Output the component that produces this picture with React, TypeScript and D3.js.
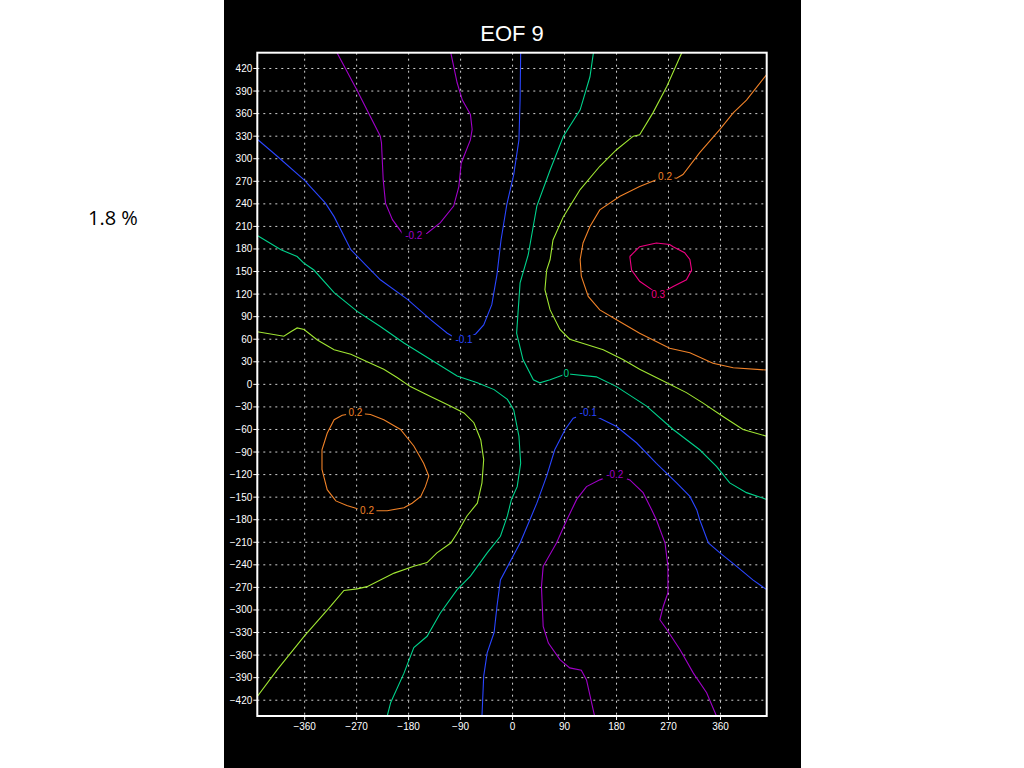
import React from "react";
import * as d3 from "d3";

type P = [number, number];

const title = "EOF 9";
const percentText = "1.8 %";
const xTicks = [-360, -270, -180, -90, 0, 90, 180, 270, 360];
const yTicks = [-420, -390, -360, -330, -300, -270, -240, -210, -180, -150, -120, -90, -60, -30, 0, 30, 60, 90, 120, 150, 180, 210, 240, 270, 300, 330, 360, 390, 420];
const xDomain: P = [-442, 440];
const yDomain: P = [-441, 441];

const levels = [-0.2, -0.1, 0, 0.1, 0.2, 0.3];

// contour -0.2 (north)
const cM02North: P[] = [
  [-304, 441], [-270, 392], [-229, 330], [-227, 321], [-224, 272], [-220, 241], [-208, 219], [-191, 201],
  [-171, 198], [-148, 201], [-125, 215], [-102, 237], [-93, 263], [-89, 294], [-73, 325], [-70, 339],
  [-73, 359], [-87, 378], [-96, 401], [-107, 441],
];
// contour -0.1 (north)
const cM01North: P[] = [
  [-442, 326], [-407, 303], [-361, 272], [-324, 241], [-309, 223], [-280, 179], [-257, 161], [-229, 139],
  [-182, 113], [-142, 86], [-113, 68], [-102, 63], [-84, 59], [-64, 67], [-50, 79], [-36, 106],
  [-27, 146], [-20, 192], [-10, 239], [2, 279], [11, 325], [13, 378], [14, 441],
];
// contour 0 (east branch)
const cZeroEast: P[] = [
  [140, 441], [134, 409], [117, 365], [88, 330], [65, 285], [42, 237], [27, 172], [13, 135],
  [7, 68], [18, 33], [36, 6], [47, 2], [65, 6], [93, 14], [145, 10], [180, -3], [232, -29],
  [278, -60], [324, -87], [353, -109], [376, -131], [405, -144], [440, -153],
];
// contour 0 (west branch)
const cZeroWest: P[] = [
  [-442, 198], [-401, 179], [-373, 170], [-361, 161], [-344, 152], [-309, 122], [-269, 97], [-229, 77],
  [-188, 55], [-142, 33], [-96, 11], [-61, 2], [-32, -7], [-9, -20], [2, -34], [11, -69], [14, -105],
  [8, -136], [-2, -153], [-9, -175], [-21, -202], [-44, -224], [-73, -255], [-96, -273], [-125, -304],
  [-148, -335], [-171, -350], [-188, -384], [-211, -423], [-217, -441],
];
// contour 0.1 (north-east)
const cP01NorthEast: P[] = [
  [293, 441], [267, 396], [243, 361], [220, 332], [209, 330], [180, 312], [151, 290], [117, 259],
  [88, 223], [70, 192], [65, 166], [59, 152], [56, 126], [65, 99], [82, 73], [99, 60], [128, 53],
  [157, 46], [191, 33], [220, 20], [267, 2], [301, -11], [330, -25], [365, -43], [399, -60], [440, -69],
];
// contour 0.1 (south-west)
const cP01SouthWest: P[] = [
  [-442, 70], [-396, 64], [-384, 70], [-373, 75], [-361, 73], [-338, 59], [-309, 46], [-280, 40],
  [-246, 28], [-223, 20], [-200, 9], [-177, -3], [-142, -16], [-107, -29], [-84, -38], [-67, -51],
  [-55, -74], [-50, -100], [-53, -131], [-61, -158], [-79, -175], [-96, -198], [-107, -211],
  [-131, -224], [-148, -237], [-171, -242], [-205, -251], [-252, -269], [-269, -272], [-292, -274],
  [-315, -295], [-361, -335], [-407, -379], [-442, -415],
];
// contour 0.2 (north-east)
const cP02NorthEast: P[] = [
  [440, 412], [405, 378], [382, 361], [359, 339], [324, 308], [295, 279], [284, 274], [264, 276],
  [249, 272], [220, 263], [186, 250], [151, 232], [134, 210], [122, 188], [117, 166], [119, 144],
  [131, 117], [151, 99], [180, 86], [220, 68], [272, 48], [307, 42], [347, 28], [382, 22], [440, 19],
];
// contour 0.3 (closed cell)
const cP03Cell: P[] = [
  [203, 170], [206, 152], [220, 137], [241, 126], [252, 119], [278, 130], [301, 139], [310, 152],
  [307, 166], [298, 175], [278, 183], [272, 186], [249, 188], [220, 183], [203, 170],
];
// contour 0.2 (closed cell, west)
const cP02West: P[] = [
  [-272, -38], [-246, -40], [-223, -47], [-194, -60], [-171, -82], [-154, -105], [-145, -122],
  [-151, -136], [-159, -149], [-174, -158], [-188, -164], [-217, -168], [-252, -168], [-270, -165],
  [-287, -161], [-306, -155], [-321, -140], [-330, -113], [-330, -87], [-321, -65], [-309, -47],
  [-295, -41], [-272, -38],
];
// contour -0.1 (south)
const cM01South: P[] = [
  [440, -273], [416, -260], [388, -242], [359, -224], [339, -211], [324, -180], [319, -167],
  [307, -149], [284, -131], [249, -105], [215, -78], [180, -56], [151, -45], [131, -38],
  [105, -45], [91, -60], [73, -87], [59, -122], [42, -158], [30, -180], [13, -211], [-5, -237],
  [-21, -260], [-27, -295], [-32, -330], [-44, -357], [-50, -388], [-53, -441],
];
// contour -0.2 (south)
const cM02South: P[] = [
  [142, -441], [128, -393], [119, -380], [99, -377], [82, -366], [62, -344], [53, -322], [50, -269],
  [53, -242], [76, -211], [94, -180], [111, -153], [128, -136], [151, -127], [177, -120], [203, -127],
  [226, -144], [241, -167], [249, -180], [264, -211], [269, -242], [269, -277], [261, -295],
  [255, -313], [267, -326], [290, -353], [313, -384], [336, -410], [353, -441],
];

const contours: { level: number; pts: P[] }[] = [
  { level: -0.2, pts: cM02North },
  { level: -0.1, pts: cM01North },
  { level: 0, pts: cZeroEast },
  { level: 0, pts: cZeroWest },
  { level: 0.1, pts: cP01NorthEast },
  { level: 0.1, pts: cP01SouthWest },
  { level: 0.2, pts: cP02NorthEast },
  { level: 0.3, pts: cP03Cell },
  { level: 0.2, pts: cP02West },
  { level: -0.1, pts: cM01South },
  { level: -0.2, pts: cM02South },
];

const labelTexts = ["-0.2", "-0.1", "0", "0.2", "0.3", "0.2", "0.2", "-0.1", "-0.2"];
const labelLevels = [-0.2, -0.1, 0, 0.2, 0.3, 0.2, 0.2, -0.1, -0.2];
const labelX = [-171, -84, 93, 264, 252, -272, -252, 131, 177];
const labelY = [198, 59, 14, 276, 119, -38, -168, -38, -120];

const levelColor: Record<string, string> = {
  "-0.2": "#a000c8",
  "-0.1": "#2a46ff",
  "0": "#00d28c",
  "0.1": "#a0e632",
  "0.2": "#f08228",
  "0.3": "#f00082",
};

export default function App() {
  const W = 1024;
  const H = 768;
  const left = 257.3, right = 766.7, top = 52.7, bottom = 716;
  const x = d3.scaleLinear().domain(xDomain).range([left, right]);
  const y = d3.scaleLinear().domain(yDomain).range([bottom, top]);
  const line = d3.line<P>().x((d) => x(d[0])).y((d) => y(d[1]));
  const fmt = (v: number) => (v < 0 ? "\u2212" + Math.abs(v) : String(v));
  const font = "'Liberation Sans', Arial, sans-serif";

  return (
    <div style={{ position: "absolute", left: 0, top: 0 }}>
      <svg width={W} height={H} style={{ display: "block", background: "#fff" }}>
        <rect x={224} y={0} width={577} height={H} fill="#000" />
        <text x={88} y={225} fontFamily="'Open Sans', 'Liberation Sans', sans-serif" fontSize={20} fill="#000">
          {percentText}
        </text>
        <text x={512} y={41} textAnchor="middle" fontFamily={font} fontSize={22} fill="#fff">
          {title}
        </text>
        <defs>
          <clipPath id="plotClip">
            <rect x={left} y={top} width={right - left} height={bottom - top} />
          </clipPath>
        </defs>
        {/* grid */}
        <g stroke="#d0d0d0" strokeWidth={1} strokeDasharray="2,4">
          {xTicks.map((t) => (
            <line key={"gx" + t} x1={x(t)} x2={x(t)} y1={top} y2={bottom} />
          ))}
          {yTicks.map((t) => (
            <line key={"gy" + t} x1={left} x2={right} y1={y(t)} y2={y(t)} />
          ))}
        </g>
        {/* contours */}
        <g clipPath="url(#plotClip)" fill="none" strokeWidth={1.1}>
          {contours.map((c, i) => (
            <path key={i} d={line(c.pts) || ""} stroke={levelColor[String(c.level)]} />
          ))}
        </g>
        {/* contour labels */}
        <g fontFamily={font} fontSize={10}>
          {labelTexts.map((t, i) => {
            const w = t.length * 5.6 + 2;
            return (
              <g key={"lab" + i}>
                <rect x={x(labelX[i]) - w / 2} y={y(labelY[i]) - 5} width={w} height={10} fill="#000" />
                <text
                  x={x(labelX[i])}
                  y={y(labelY[i]) + 3.5}
                  textAnchor="middle"
                  fill={levelColor[String(labelLevels[i])]}
                >
                  {t}
                </text>
              </g>
            );
          })}
        </g>
        {/* frame */}
        <rect x={left} y={top} width={right - left} height={bottom - top} fill="none" stroke="#fff" strokeWidth={2} />
        {/* axes ticks and labels */}
        <g fontFamily={font} fontSize={10} fill="#fff">
          {yTicks.map((t) => (
            <g key={"ty" + t}>
              <line x1={left - 4} x2={left} y1={y(t)} y2={y(t)} stroke="#fff" strokeWidth={1} />
              <text x={left - 5} y={y(t) + 3.5} textAnchor="end">
                {fmt(t)}
              </text>
            </g>
          ))}
          {xTicks.map((t) => (
            <g key={"tx" + t}>
              <line x1={x(t)} x2={x(t)} y1={bottom} y2={bottom + 4} stroke="#fff" strokeWidth={1} />
              <text x={x(t)} y={bottom + 14} textAnchor="middle">
                {fmt(t)}
              </text>
            </g>
          ))}
        </g>
      </svg>
    </div>
  );
}
